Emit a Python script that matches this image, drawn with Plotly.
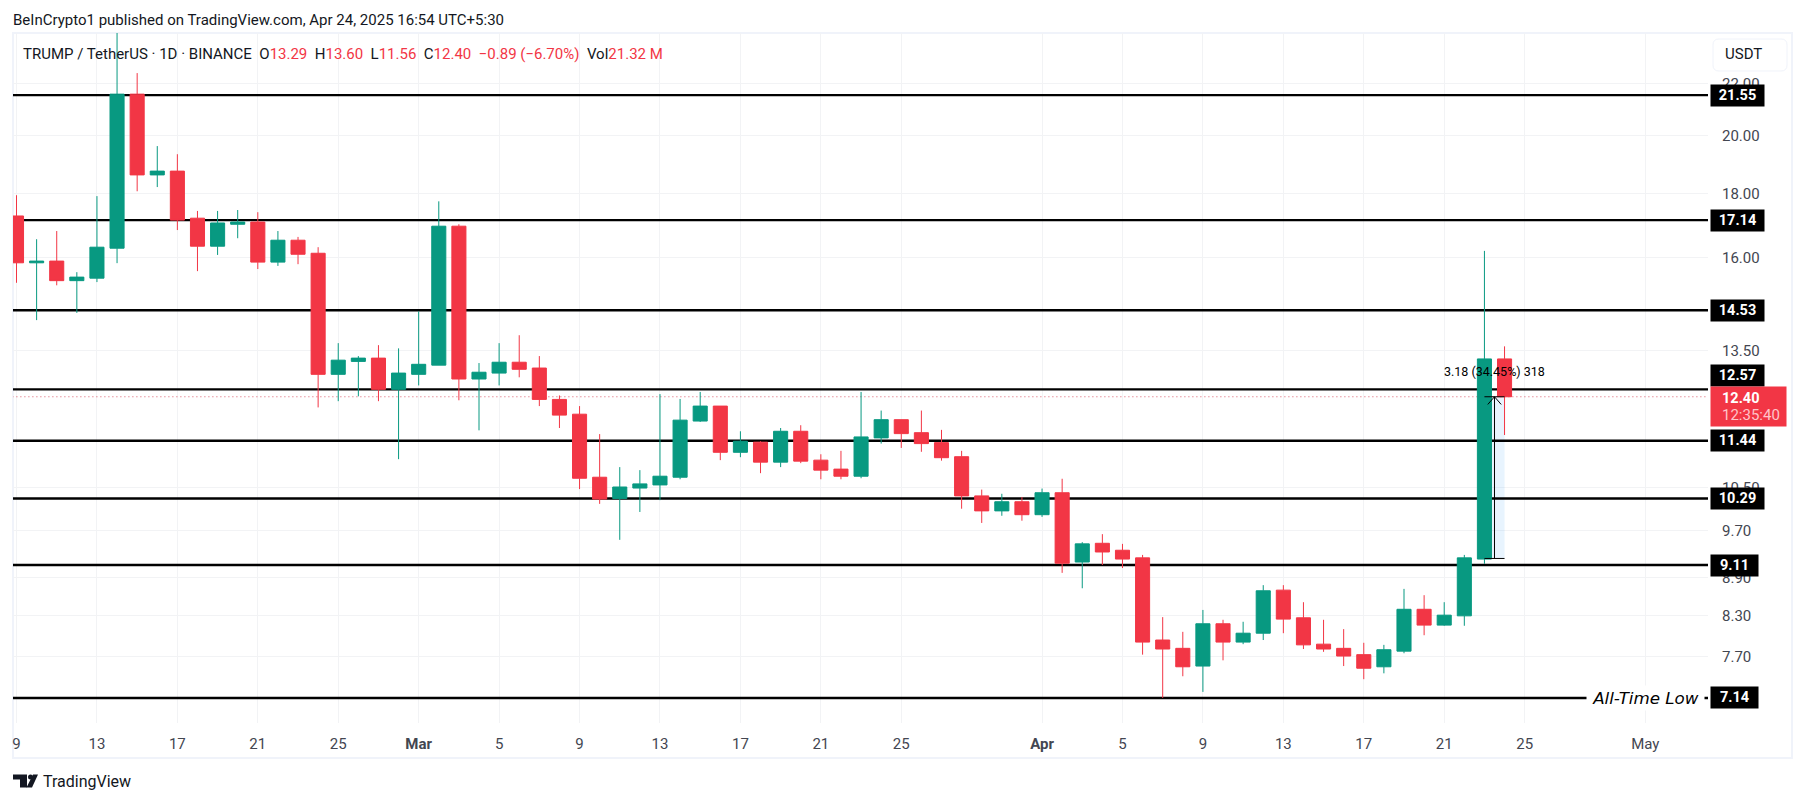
import numpy as np
import pandas as pd
import plotly.graph_objects as go

# daily candles, Feb 9 - Apr 24 2025
dates = pd.date_range("2025-02-09", "2025-04-24", freq="D")

opens = [
    17.27, 15.85, 15.90, 15.34, 15.41, 16.28, 21.59, 18.62, 18.75, 17.20,
    16.34, 17.01, 17.08, 15.87, 16.52, 16.13, 12.92, 13.23, 13.31, 12.57,
    12.92, 13.14, 16.95, 12.81, 12.95, 13.21, 13.07, 12.34, 12.01, 10.70,
    10.29, 10.49, 10.55, 10.70, 11.86, 12.19, 11.20, 11.41, 11.00, 11.64,
    11.04, 10.86, 10.72, 11.50, 11.89, 11.61, 11.40, 11.11, 10.34, 10.06,
    10.23, 9.99, 10.40, 9.16, 9.48, 9.36, 9.23, 7.94, 7.82, 7.57,
    8.18, 7.91, 8.04, 8.70, 8.27, 7.88, 7.82, 7.73, 7.56, 7.78,
    8.40, 8.16, 8.30, 9.21, 13.29,
]
highs = [
    17.94, 16.55, 16.80, 15.58, 17.91, 24.50, 22.44, 19.63, 19.34, 17.43,
    17.43, 17.46, 17.39, 16.80, 16.62, 16.31, 13.68, 13.36, 13.63, 13.55,
    14.50, 17.74, 17.01, 13.19, 13.68, 13.88, 13.36, 12.43, 12.19, 11.58,
    10.90, 10.84, 12.46, 12.35, 12.51, 12.19, 11.64, 11.43, 11.71, 11.77,
    11.16, 11.23, 12.51, 12.09, 11.89, 12.09, 11.67, 11.23, 10.46, 10.38,
    10.32, 10.48, 10.67, 9.50, 9.64, 9.47, 9.28, 8.28, 8.06, 8.39,
    8.24, 8.21, 8.78, 8.78, 8.51, 8.24, 8.10, 7.90, 7.87, 8.72,
    8.62, 8.51, 9.28, 16.20, 13.60,
]
lows = [
    15.28, 14.27, 15.21, 14.46, 15.30, 15.84, 18.07, 18.21, 16.83, 15.61,
    16.08, 16.58, 15.67, 15.76, 15.81, 12.16, 12.30, 12.41, 12.30, 11.06,
    12.66, 13.14, 12.32, 11.66, 12.66, 12.85, 12.19, 11.71, 10.47, 10.19,
    9.54, 10.04, 10.26, 10.66, 11.84, 11.04, 11.10, 10.78, 10.90, 10.98,
    10.66, 10.66, 10.68, 11.38, 11.29, 11.21, 11.03, 10.10, 9.84, 9.97,
    9.88, 9.95, 8.98, 8.73, 9.11, 9.06, 7.73, 7.14, 7.43, 7.22,
    7.65, 7.88, 7.94, 8.04, 7.81, 7.77, 7.57, 7.39, 7.47, 7.75,
    8.01, 8.15, 8.15, 9.13, 11.56,
]
closes = [
    15.85, 15.90, 15.34, 15.44, 16.31, 21.59, 18.62, 18.75, 17.14, 16.34,
    17.05, 17.08, 15.87, 16.52, 16.10, 12.92, 13.26, 13.31, 12.57, 12.95,
    13.16, 16.95, 12.81, 12.97, 13.21, 13.04, 12.34, 11.99, 10.68, 10.28,
    10.51, 10.57, 10.72, 11.88, 12.19, 11.20, 11.43, 11.00, 11.64, 11.02,
    10.84, 10.72, 11.52, 11.89, 11.59, 11.38, 11.09, 10.34, 10.06, 10.23,
    9.99, 10.40, 9.14, 9.47, 9.33, 9.21, 7.91, 7.81, 7.56, 8.18,
    7.91, 8.04, 8.69, 8.25, 7.87, 7.81, 7.71, 7.54, 7.80, 8.40,
    8.16, 8.31, 9.23, 13.29, 12.40,
]

levels = [21.55, 17.14, 14.53, 12.57, 11.44, 10.29, 9.11, 7.14]
level_labels = ["21.55", "17.14", "14.53", "12.57", "11.44", "10.29", "9.11", "7.14"]

price_ticks = [22, 20, 18, 16, 13.5, 10.5, 9.7, 8.9, 8.3, 7.7]
price_tick_text = ["22.00", "20.00", "18.00", "16.00", "13.50", "10.50", "9.70", "8.90", "8.30", "7.70"]

date_ticks = ["2025-02-09", "2025-02-13", "2025-02-17", "2025-02-21", "2025-02-25",
              "2025-03-01", "2025-03-05", "2025-03-09", "2025-03-13", "2025-03-17",
              "2025-03-21", "2025-03-25", "2025-04-01", "2025-04-05", "2025-04-09",
              "2025-04-13", "2025-04-17", "2025-04-21", "2025-04-25", "2025-05-01"]
date_tick_text = ["9", "13", "17", "21", "25", "<b>Mar</b>", "5", "9", "13", "17",
                  "21", "25", "<b>Apr</b>", "5", "9", "13", "17", "21", "25", "May"]

last_close = 12.40
measure_from = 9.22
measure_to = 12.40

GREEN = "#089981"
RED = "#F23645"
TEXT = "#131722"
AXIS_TEXT = "#434651"
FONT = "Roboto"

# plot box in page pixels
LEFT, RIGHT, TOP, BOTTOM = 13, 1708, 33, 723


def xp(px):
    return (px - LEFT) / (RIGHT - LEFT)


def yp(py):
    return (BOTTOM - py) / (BOTTOM - TOP)


fig = go.Figure(go.Candlestick(
    x=dates, open=opens, high=highs, low=lows, close=closes,
    increasing=dict(line=dict(color=GREEN, width=1), fillcolor=GREEN),
    decreasing=dict(line=dict(color=RED, width=1), fillcolor=RED),
    whiskerwidth=0,
    showlegend=False,
))

# measure tool shading goes under the candles
fig.add_shape(type="rect", x0="2025-04-23", x1="2025-04-24", y0=measure_from, y1=measure_to,
              fillcolor="rgba(33,150,243,0.1)", line_width=0, layer="between")

fig.add_shape(type="line", xref="x", x0="2025-02-08", x1="2025-05-05", y0=last_close, y1=last_close,
              line=dict(color="#D9596A", width=1, dash="1px,3px"), layer="between")

for level in levels:
    fig.add_shape(type="line", xref="x", x0="2025-02-08", x1="2025-05-05", y0=level, y1=level,
                  line=dict(color="black", width=2.4), layer="between")

# measure tool lines
fig.add_shape(type="line", x0="2025-04-23 12:00", x1="2025-04-23 12:00", y0=measure_from, y1=measure_to,
              line=dict(color="black", width=1))
for price in (measure_from, measure_to):
    fig.add_shape(type="line", x0="2025-04-23", x1="2025-04-24", y0=price, y1=price,
                  line=dict(color="black", width=1))
fig.add_trace(go.Scatter(
    x=["2025-04-23 04:00", "2025-04-23 12:00", "2025-04-23 20:00"],
    y=[measure_to * 0.986, measure_to, measure_to * 0.986],
    mode="lines", line=dict(color="black", width=1), showlegend=False, hoverinfo="skip",
))

fig.add_annotation(x="2025-04-23 12:00", y=np.log10(12.98), text="3.18 (34.45%) 318",
                   showarrow=False, font=dict(family=FONT, size=12.5, color="black"))

# price labels on the axis
label_shift = {"12.57": 13.5}
for level, label in zip(levels, level_labels):
    fig.add_annotation(
        xref="paper", x=xp(1710), y=np.log10(level), xanchor="left", yanchor="middle",
        yshift=label_shift.get(label, 0),
        text=f"<b>{label}</b>", showarrow=False, bgcolor="black", borderpad=0,
        width=53 if len(label) > 4 else 47, height=21, align="center",
        font=dict(family=FONT, size=14.5, color="white"),
    )

# current price box
fig.add_annotation(xref="paper", yref="paper", x=xp(1710), y=yp(406), xanchor="left", yanchor="middle",
                   text=" ", showarrow=False, bgcolor=RED, borderpad=0, width=75, height=39)
fig.add_annotation(xref="paper", yref="paper", x=xp(1720), y=yp(398), xanchor="left", yanchor="middle",
                   text="<b>12.40</b>", showarrow=False, font=dict(family=FONT, size=14.5, color="white"))
fig.add_annotation(xref="paper", yref="paper", x=xp(1720), y=yp(415), xanchor="left", yanchor="middle",
                   text="12:35:40", showarrow=False, font=dict(family=FONT, size=15, color="#FFC4C9"))

fig.add_annotation(xref="paper", x=xp(1586), y=np.log10(7.14), xanchor="left", yanchor="middle",
                   text="<i>All-Time Low</i>", showarrow=False, bgcolor="white",
                   borderpad=0, width=117, height=24,
                   font=dict(family="DejaVu Sans", size=16.7, color="black"))

# header, legend and footer text
fig.add_annotation(xref="paper", yref="paper", x=xp(11), y=yp(20), xanchor="left", yanchor="middle",
                   text="BeInCrypto1 published on TradingView.com, Apr 24, 2025 16:54 UTC+5:30",
                   showarrow=False, font=dict(family=FONT, size=15, color=TEXT))


def red(s):
    return f'<span style="color:{RED}">{s}</span>'


legend_text = ("TRUMP / TetherUS · 1D · BINANCE  O" + red("13.29") + "  H" + red("13.60")
               + "  L" + red("11.56") + "  C" + red("12.40") + "  " + red("−0.89 (−6.70%)")
               + "  Vol" + red("21.32 M"))
fig.add_annotation(xref="paper", yref="paper", x=xp(21), y=yp(54), xanchor="left", yanchor="middle",
                   text=legend_text, showarrow=False, font=dict(family=FONT, size=15, color=TEXT))

fig.add_annotation(xref="paper", yref="paper", x=xp(1743), y=yp(54), xanchor="center", yanchor="middle",
                   text="USDT", showarrow=False, font=dict(family=FONT, size=15, color=TEXT))

fig.add_annotation(xref="paper", yref="paper", x=xp(41), y=yp(781), xanchor="left", yanchor="middle",
                   text="TradingView", showarrow=False, font=dict(family=FONT, size=16, color=TEXT))

# outer frame
fig.add_shape(type="rect", xref="paper", yref="paper", x0=xp(13), x1=xp(1792), y0=yp(758), y1=yp(33),
              line=dict(color="#F0F3FA", width=2), layer="below")

# USDT button with rounded corners
bx0, bx1, by0, by1, br = 1713, 1787, 39, 71, 6
button_path = (
    f"M {xp(bx0 + br):.5f},{yp(by0):.5f} L {xp(bx1 - br):.5f},{yp(by0):.5f} "
    f"Q {xp(bx1):.5f},{yp(by0):.5f} {xp(bx1):.5f},{yp(by0 + br):.5f} "
    f"L {xp(bx1):.5f},{yp(by1 - br):.5f} "
    f"Q {xp(bx1):.5f},{yp(by1):.5f} {xp(bx1 - br):.5f},{yp(by1):.5f} "
    f"L {xp(bx0 + br):.5f},{yp(by1):.5f} "
    f"Q {xp(bx0):.5f},{yp(by1):.5f} {xp(bx0):.5f},{yp(by1 - br):.5f} "
    f"L {xp(bx0):.5f},{yp(by0 + br):.5f} "
    f"Q {xp(bx0):.5f},{yp(by0):.5f} {xp(bx0 + br):.5f},{yp(by0):.5f} Z"
)
fig.add_shape(type="path", xref="paper", yref="paper", path=button_path,
              line=dict(color="#F0F3FA", width=1), fillcolor="white")

# TradingView logo
logo_t = [(13, 774.5), (27, 774.5), (27, 787.5), (20, 787.5), (20, 779.5), (13, 779.5)]
logo_v = [(33, 774.5), (38, 774.5), (32, 787.5), (26.5, 787.5)]
for part in (logo_t, logo_v):
    path = "M " + " L ".join(f"{xp(a):.5f},{yp(b):.5f}" for a, b in part) + " Z"
    fig.add_shape(type="path", xref="paper", yref="paper", path=path, fillcolor=TEXT, line_width=0)
fig.add_shape(type="circle", xref="paper", yref="paper", x0=xp(28), x1=xp(33), y0=yp(779.5), y1=yp(774.5),
              fillcolor=TEXT, line_width=0)

fig.update_layout(
    width=1804, height=803,
    autosize=False,
    margin=dict(l=LEFT, r=1804 - RIGHT, t=TOP, b=803 - BOTTOM, pad=0),
    paper_bgcolor="white", plot_bgcolor="white",
    showlegend=False,
    boxgap=0.3, boxgroupgap=0,
    xaxis=dict(
        type="date",
        range=["2025-02-08 19:49", "2025-05-04 02:50"],
        rangeslider=dict(visible=False),
        tickmode="array", tickvals=date_ticks, ticktext=date_tick_text,
        tickangle=0,
        ticks="outside", ticklen=7, tickcolor="rgba(0,0,0,0)",
        showgrid=True, gridcolor="#F2F3F5", gridwidth=1,
        zeroline=False, showline=False,
        tickfont=dict(family=FONT, size=15, color=AXIS_TEXT),
    ),
    yaxis=dict(
        type="log",
        side="right",
        range=[np.log10(6.82), np.log10(24.15)],
        tickmode="array", tickvals=price_ticks, ticktext=price_tick_text,
        ticks="outside", ticklen=10, tickcolor="rgba(0,0,0,0)",
        showgrid=True, gridcolor="#F2F3F5", gridwidth=1,
        zeroline=False, showline=False,
        tickfont=dict(family=FONT, size=15, color=AXIS_TEXT),
    ),
)

fig.write_html("out.html", config={"displayModeBar": False},
               post_script="document.body.style.margin='0';")
